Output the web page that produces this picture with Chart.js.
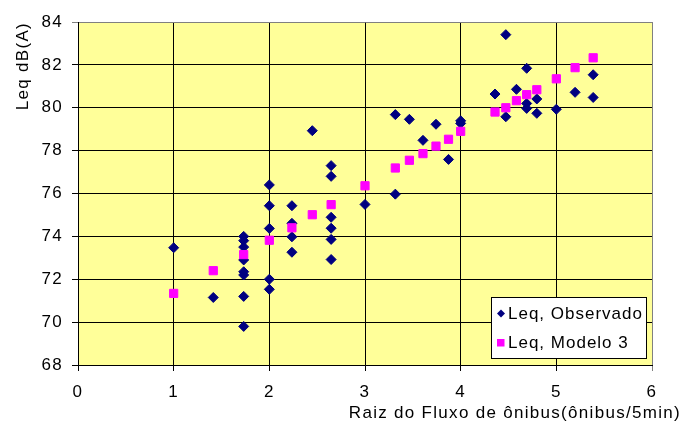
<!DOCTYPE html>
<html>
<head>
<meta charset="utf-8">
<title>Leq x Raiz do Fluxo de ônibus</title>
<script src="https://cdn.jsdelivr.net/npm/chart.js@4.4.1/dist/chart.umd.min.js"></script>
<style>
  html, body { margin: 0; padding: 0; background: #fff; }
  canvas { display: block; }
</style>
</head>
<body>
<canvas id="leqChart" width="682" height="422"></canvas>
<script>
// Leq observado
const obsX = [1, 1.414,
  1.732, 1.732, 1.732, 1.732, 1.732, 1.732, 1.732, 1.732,
  2, 2, 2, 2, 2,
  2.236, 2.236, 2.236, 2.236,
  2.449,
  2.646, 2.646, 2.646, 2.646, 2.646, 2.646,
  3, 3.317, 3.317, 3.464, 3.606, 3.742, 3.873, 4, 4,
  4.359, 4.472, 4.472, 4.583, 4.690, 4.690, 4.690,
  4.796, 4.796, 5, 5.196, 5.385, 5.385];
const obsY = [73.47, 71.15,
  74.0, 73.8, 73.5, 72.9, 72.35, 72.2, 71.2, 69.8,
  76.4, 75.43, 74.37, 72.0, 71.53,
  75.43, 74.61, 73.98, 73.26,
  78.93,
  77.3, 76.8, 74.89, 74.38, 73.86, 72.92,
  75.49, 79.68, 75.97, 79.46, 78.48, 79.23, 77.59, 79.39, 79.27,
  80.64, 83.41, 79.58, 80.86, 81.84, 80.2, 79.97,
  80.41, 79.74, 79.93, 80.72, 81.54, 80.48];

// Leq, Modelo 3
const modX = [1, 1.414, 1.732, 2, 2.236, 2.449, 2.646, 3, 3.317, 3.464, 3.606,
  3.742, 3.873, 4, 4.359, 4.472, 4.583, 4.690, 4.796, 5, 5.196, 5.385];
const modY = [71.34, 72.4, 73.15, 73.82, 74.4, 75.01, 75.48, 76.36, 77.19, 77.55, 77.86,
  78.21, 78.53, 78.9, 79.8, 80.0, 80.33, 80.61, 80.84, 81.35, 81.87, 82.33];

const xTicks = [0, 1, 2, 3, 4, 5, 6];
const yTicks = [68, 70, 72, 74, 76, 78, 80, 82, 84];
const seriesNames = ['Leq, Observado', 'Leq, Modelo 3'];
const xTitle = 'Raiz do Fluxo de ônibus(ônibus/5min)';
const yTitle = 'Leq dB(A)';

const FONT = '"Liberation Sans", Arial, sans-serif';
const NAVY = '#000080';
const MAGENTA = '#FF00FF';

function toPoints(xs, ys) {
  return xs.map((x, i) => ({ x: x, y: ys[i] }));
}

// yellow plot area + wider Excel-like text spacing
const plotBg = {
  id: 'plotBg',
  beforeDraw(chart) {
    const { ctx, chartArea: a } = chart;
    ctx.letterSpacing = '1.3px';
    ctx.save();
    ctx.fillStyle = '#FFFF99';
    ctx.fillRect(a.left, a.top, a.right - a.left, a.bottom - a.top);
    ctx.restore();
  }
};

// x title (runs past the plot edge) and the boxed legend inside the plot
const extras = {
  id: 'extras',
  afterDraw(chart) {
    const ctx = chart.ctx;
    ctx.save();
    ctx.fillStyle = '#000';
    ctx.font = '17px ' + FONT;
    ctx.textAlign = 'right';
    ctx.textBaseline = 'alphabetic';
    ctx.fillText(xTitle, 681, 418);

    // legend box
    ctx.fillStyle = '#fff';
    ctx.fillRect(492, 298, 155, 60);
    ctx.strokeStyle = '#000';
    ctx.lineWidth = 1;
    ctx.strokeRect(491.5, 297.5, 155, 61);

    ctx.letterSpacing = '1px';
    ctx.textAlign = 'left';
    chart.data.datasets.forEach((ds, i) => {
      const cy = i === 0 ? 313.5 : 342.5;
      ctx.fillStyle = ds.backgroundColor;
      if (ds.pointStyle === 'rectRot') {
        ctx.beginPath();
        ctx.moveTo(497, cy);
        ctx.lineTo(501, cy - 4);
        ctx.lineTo(505, cy);
        ctx.lineTo(501, cy + 4);
        ctx.closePath();
        ctx.fill();
      } else {
        ctx.fillRect(497, cy - 3.5, 7.5, 7.5);
      }
      ctx.fillStyle = '#000';
      ctx.fillText(ds.label, 508, cy + 5);
    });
    ctx.restore();
  }
};

new Chart(document.getElementById('leqChart'), {
  type: 'scatter',
  data: {
    datasets: [
      {
        label: seriesNames[0], data: toPoints(obsX, obsY), order: 1,
        pointStyle: 'rectRot', radius: 5, borderWidth: 1,
        backgroundColor: NAVY, borderColor: NAVY
      },
      {
        label: seriesNames[1], data: toPoints(modX, modY), order: 0,
        pointStyle: 'rect', radius: 5.8, borderWidth: 1,
        backgroundColor: MAGENTA, borderColor: MAGENTA
      }
    ]
  },
  options: {
    responsive: false,
    animation: false,
    devicePixelRatio: 1,
    layout: { padding: { top: 22, right: 30, left: 0, bottom: 0 } },
    plugins: { legend: { display: false }, tooltip: { enabled: false } },
    scales: {
      x: {
        type: 'linear', min: xTicks[0], max: xTicks[xTicks.length - 1],
        afterBuildTicks: s => { s.ticks = xTicks.map(v => ({ value: v })); },
        afterFit: s => { s.height = 57; },
        border: { color: '#000', width: 1 },
        grid: { color: c => (c.tick && c.tick.value === 6 ? '#808080' : '#000'), lineWidth: 1, tickLength: 6 },
        ticks: { color: '#000', padding: 11, font: { family: FONT, size: 17 }, maxRotation: 0 }
      },
      y: {
        min: yTicks[0], max: yTicks[yTicks.length - 1],
        afterBuildTicks: s => { s.ticks = yTicks.map(v => ({ value: v })); },
        afterFit: s => { s.width = 78; },
        border: { color: '#000', width: 1 },
        grid: { color: c => (c.tick && c.tick.value === 84 ? '#808080' : '#000'), lineWidth: 1, tickLength: 6 },
        ticks: { color: '#000', padding: 9, font: { family: FONT, size: 17 } },
        title: {
          display: true, text: yTitle, align: 'end', color: '#000',
          font: { family: FONT, size: 17 }, padding: { top: 13, bottom: 0 }
        }
      }
    }
  },
  plugins: [plotBg, extras]
});
</script>
</body>
</html>
